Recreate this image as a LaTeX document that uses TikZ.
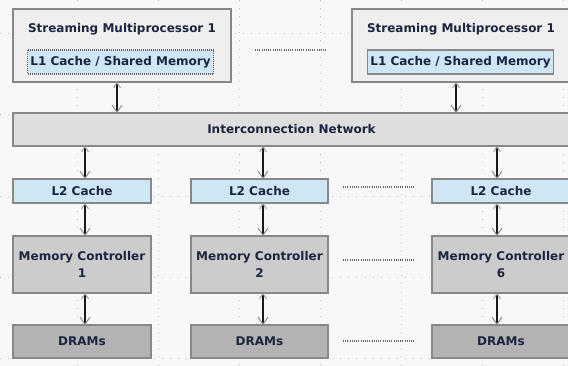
\documentclass[tikz,border=0pt]{standalone}
\usepackage{fontspec}
\setmainfont{DejaVu Sans}
\usetikzlibrary{arrows.meta}

\definecolor{pagebg}{HTML}{F8F8F8}
\definecolor{gridgray}{HTML}{C4C4C4}
\definecolor{edgegray}{HTML}{888888}
\definecolor{smfill}{HTML}{EFEFEF}
\definecolor{cachefill}{HTML}{CFE6F5}
\definecolor{netfill}{HTML}{DEDEDE}
\definecolor{mcfill}{HTML}{CCCCCC}
\definecolor{dramfill}{HTML}{B3B3B3}
\definecolor{labelnavy}{HTML}{1B2540}

\newcommand\boxlabelfont{\fontsize{12}{16.5}\selectfont\bfseries}

\tikzset{
  griddot/.style={draw=gridgray, line width=0.8pt, dash pattern=on 0.8pt off 7.3pt},
  unit/.style={draw=edgegray, line width=1.2pt, inner sep=0pt, outer sep=0pt,
               font=\boxlabelfont, text=labelnavy, align=center},
  smbox/.style={unit, fill=smfill, minimum width=218pt, minimum height=73pt},
  smtitle/.style={inner sep=0pt, font=\boxlabelfont, text=labelnavy},
  l1box/.style={unit, fill=cachefill, minimum width=186pt, minimum height=24pt},
  netbox/.style={unit, fill=netfill, minimum width=557pt, minimum height=33pt},
  l2box/.style={unit, fill=cachefill, minimum height=24pt},
  mcbox/.style={unit, fill=mcfill, minimum height=57pt},
  drambox/.style={unit, fill=dramfill, minimum height=33pt},
  biarrow/.style={draw=black!90, line width=1.3pt,
    {Straight Barb[color=black!38, length=5pt, width=7pt, line width=1pt]}-{Straight Barb[color=black!45, length=7pt, width=10pt, line width=1pt]}},
  ellip/.style={draw=black!60, line width=1.3pt, dash pattern=on 1pt off 1.2pt},
}

\begin{document}
\begin{tikzpicture}[x=1pt, y=-1pt]
\clip (0,0) rectangle (568,366);
\fill[pagebg] (0,0) rectangle (568,366);

% background drawing grid
\foreach \gx in {77,158,239,320,401,482,563}
  \draw[griddot] (\gx,0) -- (\gx,366);
\foreach \gy in {33,114,196,277,358}
  \draw[griddot] (0,\gy) -- (568,\gy);

% streaming multiprocessors
\node[smbox] (sm1) at (122,45.5) {};
\node[smtitle] (sm1title) at (122,29) {Streaming Multiprocessor 1};
\node[l1box, draw=black!60, dash pattern=on 1pt off 1pt] (l1a) at (120.5,62) {L1 Cache / Shared Memory};

\node[smbox] (sm2) at (461,45.5) {};
\node[smtitle] (sm2title) at (461,29) {Streaming Multiprocessor 1};
\node[l1box] (l1b) at (460.5,62) {L1 Cache / Shared Memory};

\draw[ellip] ([xshift=24pt,yshift=-4.5pt]sm1.east) -- ([xshift=-25pt,yshift=-4.5pt]sm2.west);

% interconnection network
\node[netbox] (net) at (291.5,129.5) {Interconnection Network};

\draw[biarrow] ([xshift=-5pt]sm1.south) -- ([xshift=-5pt]sm1.south |- net.north);
\draw[biarrow] ([xshift=-5pt]sm2.south) -- ([xshift=-5pt]sm2.south |- net.north);

% memory partitions
\foreach \c/\cx/\w/\off/\n in {a/82/138/3/1, b/259.5/137/3.5/2, c/501/138/-4/6} {
  \node[l2box, minimum width=\w pt] (l2\c) at (\cx,191) {L2 Cache};
  \node[mcbox, minimum width=\w pt] (mc\c) at (\cx,264.5) {Memory Controller\\\n};
  \node[drambox, minimum width=\w pt] (dram\c) at (\cx,341.5) {DRAMs};
  \draw[biarrow] ([xshift=\off pt]l2\c.north |- net.south) -- ([xshift=\off pt]l2\c.north);
  \draw[biarrow] ([xshift=\off pt]l2\c.south) -- ([xshift=\off pt]mc\c.north);
  \draw[biarrow] ([xshift=\off pt]mc\c.south) -- ([xshift=\off pt]dram\c.north);
}

% elided partitions
\draw[ellip] ([xshift=15pt,yshift=4pt]l2b.east) -- ([xshift=-17pt,yshift=4pt]l2c.west);
\draw[ellip] ([xshift=15pt,yshift=4.5pt]mcb.east) -- ([xshift=-17pt,yshift=4.5pt]mcc.west);
\draw[ellip] ([xshift=15pt,yshift=0.5pt]dramb.east) -- ([xshift=-17pt,yshift=0.5pt]dramc.west);
\end{tikzpicture}
\end{document}
